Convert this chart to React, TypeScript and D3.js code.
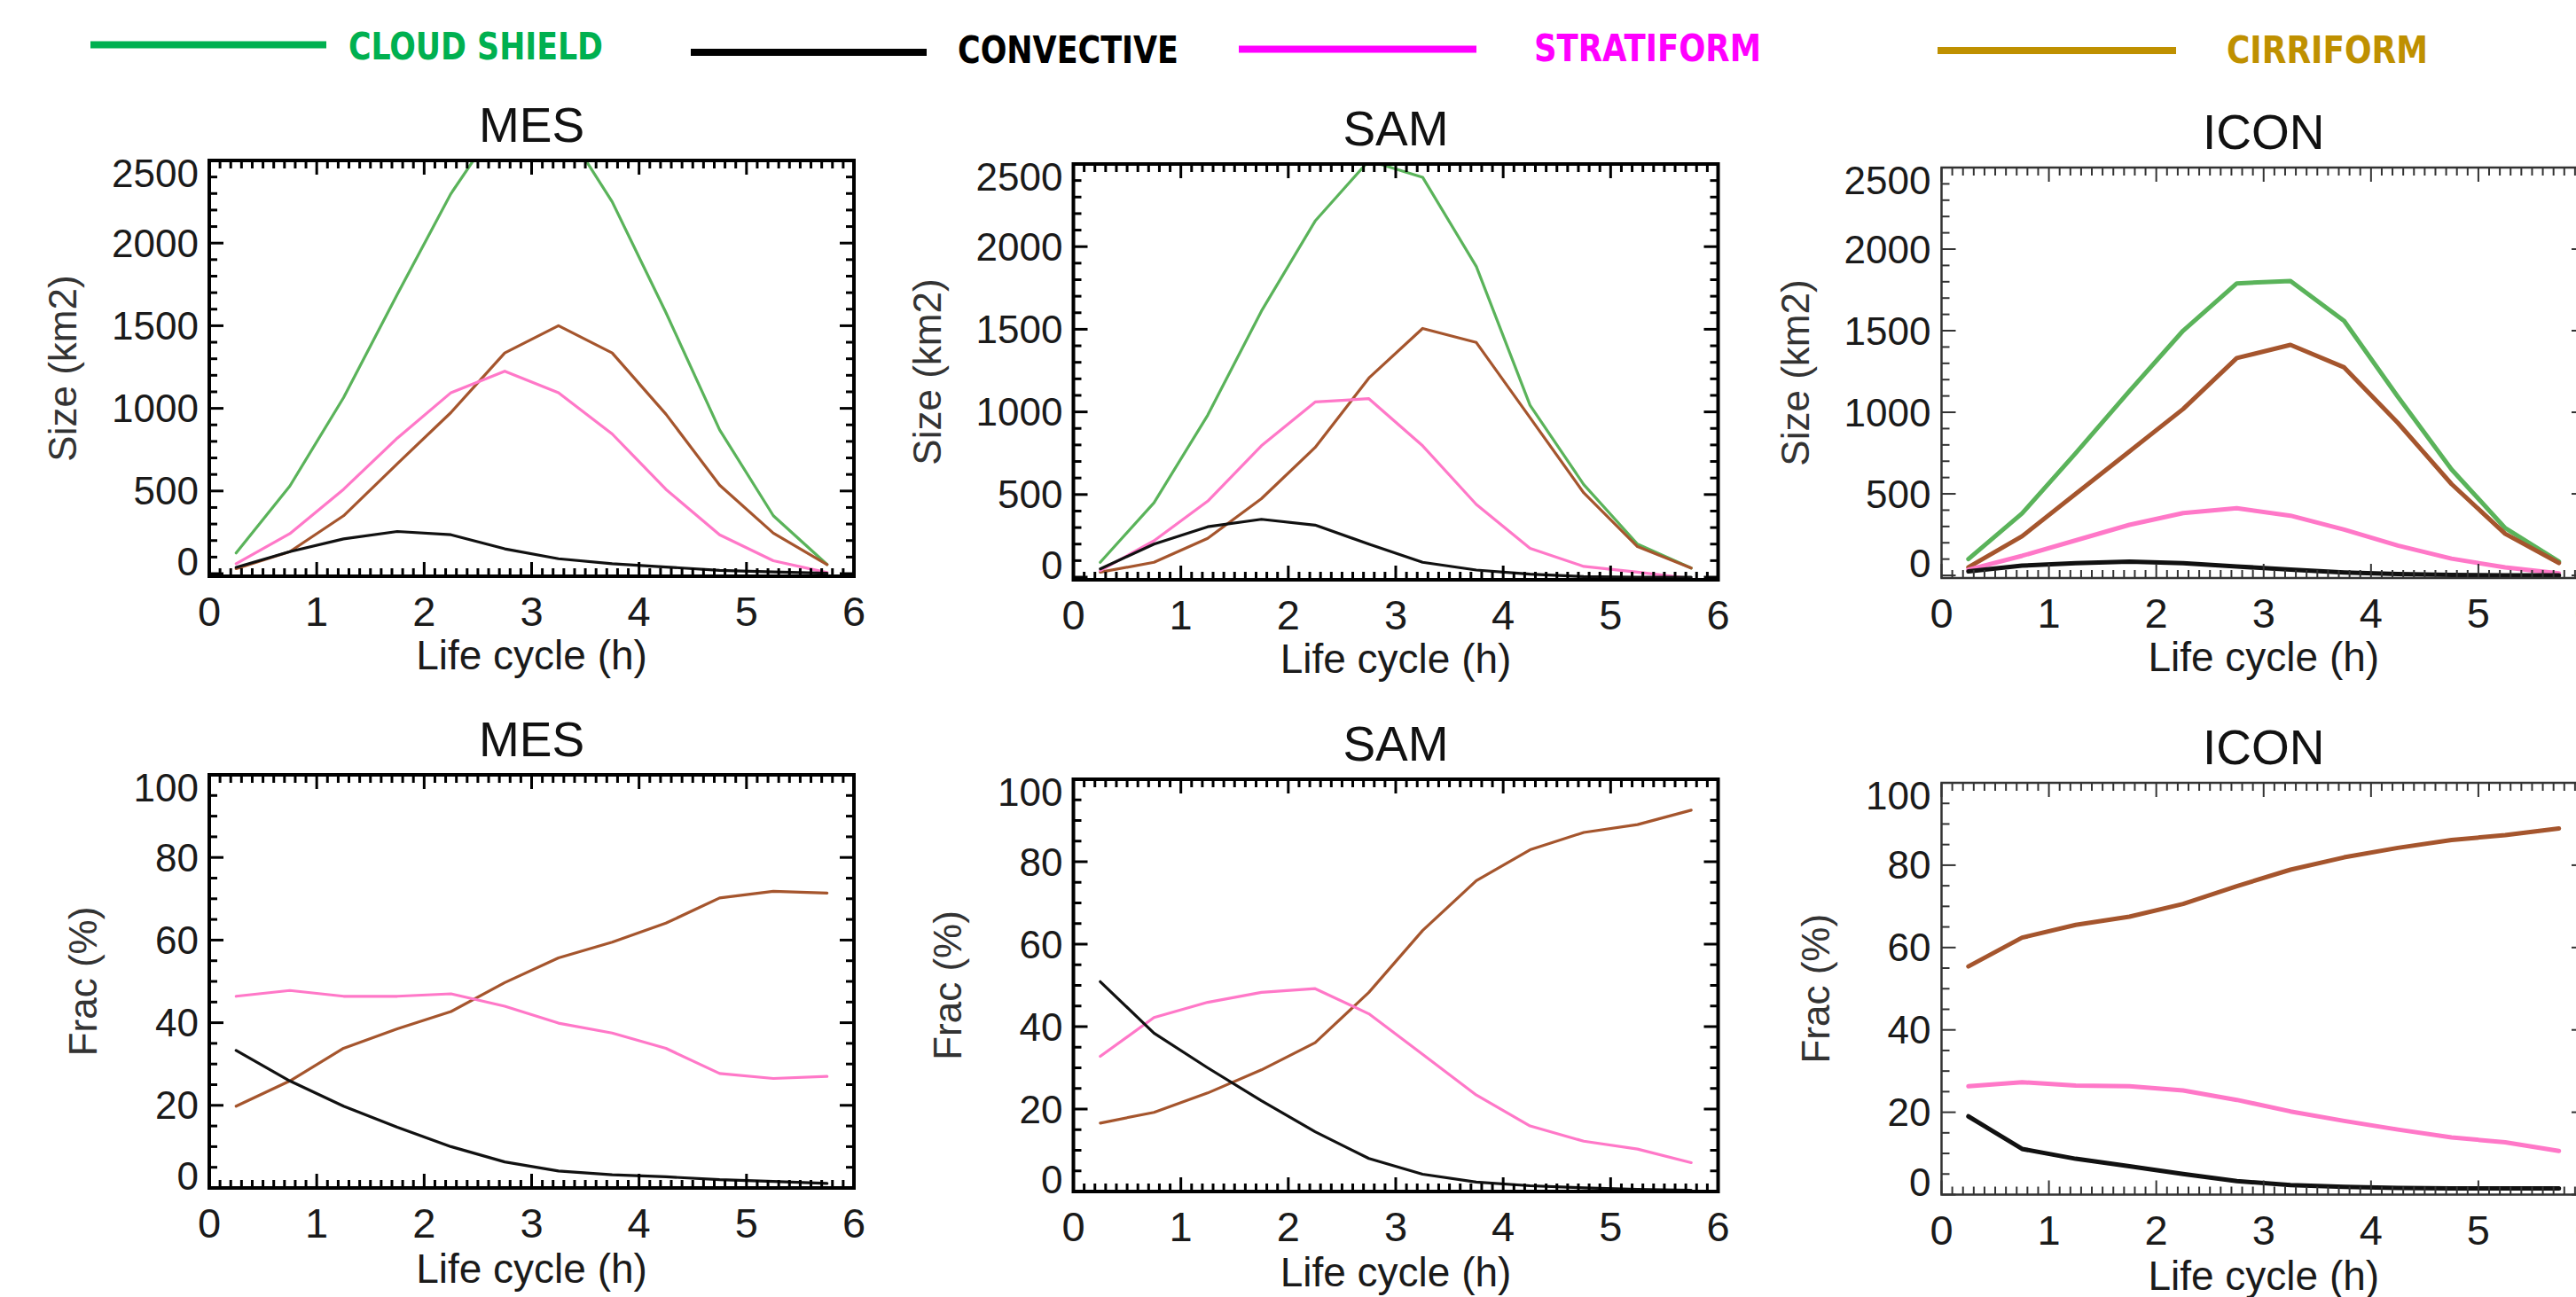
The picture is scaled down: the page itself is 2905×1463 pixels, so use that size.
import React, { useEffect } from 'react';
import * as d3 from 'd3';

// ---------- data ----------
const hours = [0.25, 0.75, 1.25, 1.75, 2.25, 2.75, 3.25, 3.75, 4.25, 4.75, 5.25, 5.75];
const xTicks = [0, 1, 2, 3, 4, 5, 6];
const sizeTicks = [0, 500, 1000, 1500, 2000, 2500];
const fracTicks = [0, 20, 40, 60, 80, 100];

const legendNames = ['CLOUD SHIELD', 'CONVECTIVE', 'STRATIFORM', 'CIRRIFORM'];

// Size (km2)
const mesSizeShield = [125, 530, 1065, 1690, 2300, 2780, 2760, 2250, 1580, 870, 350, 55];
const mesSizeConv = [38, 133, 210, 255, 235, 150, 90, 60, 40, 20, 10, 2];
const mesSizeStrat = [60, 242, 510, 820, 1095, 1225, 1095, 845, 510, 235, 78, 6];
const mesSizeCirr = [30, 133, 350, 665, 975, 1335, 1500, 1335, 965, 535, 245, 55];

const samSizeShield = [90, 450, 980, 1610, 2155, 2520, 2420, 1880, 1040, 560, 200, 55];
const samSizeConv = [50, 200, 305, 350, 315, 200, 90, 43, 18, 3, 0, 0];
const samSizeStrat = [40, 220, 460, 795, 1060, 1080, 795, 440, 175, 65, 30, -8];
const samSizeCirr = [30, 90, 235, 475, 785, 1205, 1505, 1420, 965, 510, 185, 55];

const iconSizeShield = [100, 380, 750, 1130, 1500, 1790, 1805, 1560, 1095, 650, 290, 85];
const iconSizeConv = [25, 60, 75, 85, 75, 55, 35, 18, 8, 3, 0, 0];
const iconSizeStrat = [35, 120, 215, 310, 382, 412, 366, 281, 183, 103, 49, 13];
const iconSizeCirr = [50, 240, 500, 760, 1020, 1332, 1413, 1275, 935, 560, 255, 76];

// Frac (%)
const mesFracConv = [33.3, 25.9, 19.8, 14.7, 10, 6.3, 4.1, 3.2, 2.7, 2, 1.6, 1.1];
const mesFracStrat = [46.4, 47.8, 46.4, 46.4, 47, 44, 39.9, 37.5, 33.8, 27.7, 26.5, 27];
const mesFracCirr = [19.8, 25.9, 33.8, 38.5, 42.7, 49.7, 55.7, 59.5, 64.1, 70.2, 71.8, 71.4];

const samFracConv = [50.9, 38.4, 30, 22, 14.5, 8, 4.2, 2.3, 1.4, 0.9, 0.5, 0.3];
const samFracStrat = [32.8, 42.2, 45.9, 48.3, 49.2, 43.1, 33.3, 23.4, 15.9, 12.2, 10.3, 7];
const samFracCirr = [16.6, 19.2, 23.9, 29.5, 36.1, 48.3, 63.3, 75.4, 82.9, 87.1, 89, 92.5];

const iconFracConv = [19, 11.1, 8.7, 6.9, 5, 3.3, 2.3, 1.9, 1.6, 1.5, 1.5, 1.5];
const iconFracStrat = [26.3, 27.3, 26.5, 26.3, 25.3, 23, 20.2, 17.9, 15.8, 13.9, 12.7, 10.6];
const iconFracCirr = [55.4, 62.4, 65.5, 67.5, 70.6, 74.9, 78.9, 81.9, 84.2, 86.1, 87.3, 88.9];

// ---------- styles ----------
const C_GREEN = '#5ab35a';
const C_BLACK = '#111111';
const C_PINK = '#ff78c8';
const C_BROWN = '#a5552d';
const LEG_COLORS = ['#00b050', '#000000', '#ff00ff', '#bf9000'];
const FONT = "'Liberation Sans', Arial, Helvetica, sans-serif";

type Series = { values: number[]; color: string };
type PanelDef = {
  title: string;
  kind: 'size' | 'frac';
  x0: number; x1: number; y0: number; y1: number;
  thin: boolean;
  series: Series[];
};

const PANELS: PanelDef[] = [
  { title: 'MES', kind: 'size', x0: 236, x1: 963, y0: 181, y1: 650, thin: false,
    series: [
      { values: mesSizeShield, color: C_GREEN },
      { values: mesSizeCirr, color: C_BROWN },
      { values: mesSizeStrat, color: C_PINK },
      { values: mesSizeConv, color: C_BLACK },
    ] },
  { title: 'SAM', kind: 'size', x0: 1210.5, x1: 1937.5, y0: 185, y1: 654, thin: false,
    series: [
      { values: samSizeShield, color: C_GREEN },
      { values: samSizeCirr, color: C_BROWN },
      { values: samSizeStrat, color: C_PINK },
      { values: samSizeConv, color: C_BLACK },
    ] },
  { title: 'ICON', kind: 'size', x0: 2189.5, x1: 2916, y0: 189, y1: 652, thin: true,
    series: [
      { values: iconSizeShield, color: C_GREEN },
      { values: iconSizeCirr, color: C_BROWN },
      { values: iconSizeStrat, color: C_PINK },
      { values: iconSizeConv, color: C_BLACK },
    ] },
  { title: 'MES', kind: 'frac', x0: 236, x1: 963, y0: 874, y1: 1340, thin: false,
    series: [
      { values: mesFracCirr, color: C_BROWN },
      { values: mesFracStrat, color: C_PINK },
      { values: mesFracConv, color: C_BLACK },
    ] },
  { title: 'SAM', kind: 'frac', x0: 1210.5, x1: 1937.5, y0: 879, y1: 1344, thin: false,
    series: [
      { values: samFracCirr, color: C_BROWN },
      { values: samFracStrat, color: C_PINK },
      { values: samFracConv, color: C_BLACK },
    ] },
  { title: 'ICON', kind: 'frac', x0: 2189.5, x1: 2916, y0: 883, y1: 1347.5, thin: true,
    series: [
      { values: iconFracCirr, color: C_BROWN },
      { values: iconFracStrat, color: C_PINK },
      { values: iconFracConv, color: C_BLACK },
    ] },
];

function Panel({ p, idx }: { p: PanelDef; idx: number }) {
  const isSize = p.kind === 'size';
  const yTicks = isSize ? sizeTicks : fracTicks;
  const yMax = yTicks[yTicks.length - 1];
  const yMin = isSize ? -16 : 0;
  const x = d3.scaleLinear().domain([0, 6]).range([p.x0, p.x1]);
  const y = d3.scaleLinear().domain([yMin, yMax]).range([p.y1, p.y0]);
  const line = d3.line<number>().x((_, i) => x(hours[i])).y((d) => y(d));

  const xMinor = d3.range(0, 6.0001, 0.1);
  const yMinor = d3.range(0, yMax + 0.0001, isSize ? 100 : 5);
  const axisColor = p.thin ? '#333' : '#000';
  const boxW = p.thin ? 2.5 : 4;
  const tickW = p.thin ? 2 : 3;
  const lineW = p.thin ? 5 : 3.2;
  const majL = 16;
  const minL = 9;
  const clipId = `clip${idx}`;
  const cx = (p.x0 + p.x1) / 2;
  const cy = (p.y0 + p.y1) / 2;

  const ticks: React.ReactNode[] = [];
  xMinor.forEach((v, i) => {
    const major = Math.abs(v - Math.round(v)) < 1e-6;
    const L = major ? majL : minL;
    const xx = x(v);
    ticks.push(<line key={`xb${i}`} x1={xx} x2={xx} y1={p.y1} y2={p.y1 - L} />);
    ticks.push(<line key={`xt${i}`} x1={xx} x2={xx} y1={p.y0} y2={p.y0 + L} />);
  });
  yMinor.forEach((v, i) => {
    const major = yTicks.includes(Math.round(v));
    const L = major ? majL : minL;
    const yy = y(v);
    ticks.push(<line key={`yl${i}`} x1={p.x0} x2={p.x0 + L} y1={yy} y2={yy} />);
    ticks.push(<line key={`yr${i}`} x1={p.x1} x2={p.x1 - L} y1={yy} y2={yy} />);
  });

  return (
    <g>
      <defs>
        <clipPath id={clipId}>
          <rect x={p.x0} y={p.y0} width={p.x1 - p.x0} height={p.y1 - p.y0} />
        </clipPath>
      </defs>
      <text x={cx} y={p.y0 - 21} fontSize={55} textAnchor="middle" fill="#111" fontFamily={FONT}>
        {p.title}
      </text>
      <g clipPath={`url(#${clipId})`}>
        {p.series.map((s, i) => (
          <path key={i} d={line(s.values) || ''} fill="none" stroke={s.color} strokeWidth={lineW}
            strokeLinejoin="round" strokeLinecap="round" />
        ))}
      </g>
      <g stroke={axisColor} strokeWidth={tickW}>{ticks}</g>
      <rect x={p.x0} y={p.y0} width={p.x1 - p.x0} height={p.y1 - p.y0} fill="none"
        stroke={axisColor} strokeWidth={boxW} />
      {yTicks.map((v) => {
        const shift = v === yMax ? 14 : v === 0 ? -14 : 0;
        return (
          <text key={`yl${v}`} x={p.x0 - 12} y={y(v) + shift + 15.5} fontSize={44}
            textAnchor="end" fill="#1a1a1a" fontFamily={FONT}>{v}</text>
        );
      })}
      {xTicks.map((v) => (
        <text key={`xl${v}`} x={x(v)} y={p.y1 + 56} fontSize={47} textAnchor="middle"
          fill="#1a1a1a" fontFamily={FONT}>{v}</text>
      ))}
      <text x={cx} y={p.y1 + (isSize ? 105 : 107)} fontSize={46} textAnchor="middle"
        fill="#1a1a1a" fontFamily={FONT}>Life cycle (h)</text>
      <text transform={`translate(${p.x0 - (isSize ? 150 : 127)},${cy}) rotate(-90)`} fontSize={44}
        textAnchor="middle" fill="#333" fontFamily={FONT}>{isSize ? 'Size (km2)' : 'Frac (%)'}</text>
    </g>
  );
}

const LEGEND_LAYOUT = [
  { lx0: 102, lx1: 368, ly: 50.5, tx: 393, tw: 287, ty: 66.5 },
  { lx0: 779, lx1: 1045, ly: 59, tx: 1080, tw: 249, ty: 70.5 },
  { lx0: 1397, lx1: 1665, ly: 55.5, tx: 1730, tw: 256, ty: 69 },
  { lx0: 2185, lx1: 2454, ly: 57, tx: 2511, tw: 227, ty: 70.5 },
];

export default function App() {
  useEffect(() => {
    document.body.style.margin = '0';
    document.body.style.overflow = 'hidden';
  }, []);
  return (
    <svg width={2905} height={1463} viewBox="0 0 2905 1463" style={{ display: 'block', background: '#fff' }}>
      <rect x={0} y={0} width={2905} height={1463} fill="#fff" />
      {legendNames.map((name, i) => {
        const L = LEGEND_LAYOUT[i];
        return (
          <g key={name}>
            <line x1={L.lx0} x2={L.lx1} y1={L.ly} y2={L.ly} stroke={LEG_COLORS[i]} strokeWidth={8} />
            <text x={L.tx} y={L.ty} fontSize={43} fontWeight="bold" fill={LEG_COLORS[i]}
              fontFamily="'DejaVu Sans Condensed', 'DejaVu Sans', sans-serif"
              textLength={L.tw} lengthAdjust="spacingAndGlyphs">{name}</text>
          </g>
        );
      })}
      {PANELS.map((p, i) => (
        <Panel key={i} p={p} idx={i} />
      ))}
    </svg>
  );
}
